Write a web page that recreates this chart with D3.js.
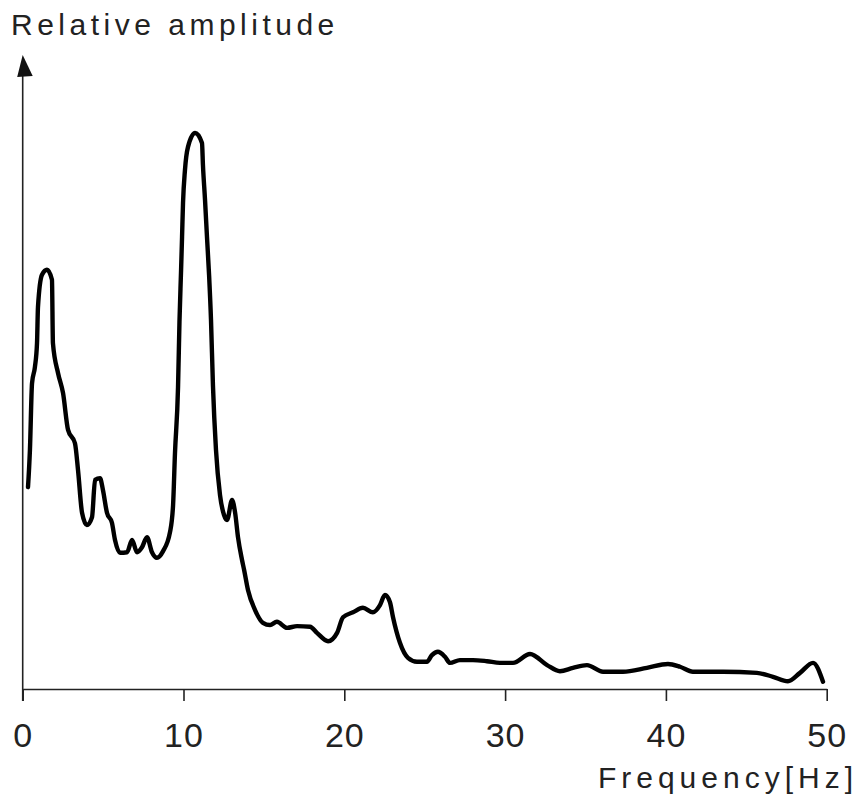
<!DOCTYPE html>
<html>
<head>
<meta charset="utf-8">
<script src="https://cdn.jsdelivr.net/npm/d3@7"></script>
<style>
  html, body { margin: 0; padding: 0; background: #fff; }
  svg { display: block; }
  text { font-family: "Liberation Sans", Arial, sans-serif; fill: #222; }
</style>
</head>
<body>
<svg id="chart" width="858" height="798"></svg>
<script>
// Frequency (Hz) of each traced point
const frequency = [
  0.33, 0.45, 0.58, 0.76, 0.89, 0.95, 1.20, 1.51, 1.82, 1.88,
  2.20, 2.51, 2.82, 3.25, 3.44, 3.69, 3.99, 4.31, 4.50, 4.81,
  4.99, 5.24, 5.55, 5.74, 6.05, 6.49, 6.80, 7.11, 7.42, 7.73,
  8.04, 8.35, 8.73, 9.16, 9.35, 9.47, 9.66, 9.75, 9.85, 9.91,
  9.97, 10.09, 10.28, 10.72, 11.15, 11.21, 11.34, 11.46, 11.59, 11.71,
  11.83, 12.02, 12.27, 12.52, 12.71, 13.02, 13.21, 13.39, 13.64, 13.77,
  14.01, 14.45, 14.94, 15.38, 15.81, 16.44, 17.06, 17.87, 18.30, 18.99,
  19.55, 19.92, 20.54, 21.16, 21.78, 22.22, 22.53, 22.84, 23.03, 23.46,
  23.96, 24.52, 25.14, 25.45, 25.82, 26.26, 26.57, 27.19, 28.00, 28.87,
  29.68, 30.49, 31.55, 32.61, 33.41, 34.22, 35.09, 36.09, 37.33, 38.82,
  40.13, 40.88, 41.68, 43.55, 45.66, 46.66, 47.59, 48.34, 49.15, 49.77
];
// Relative amplitude (1 = highest peak)
const amplitude = [
  0.363, 0.430, 0.550, 0.579, 0.622, 0.687, 0.745, 0.754, 0.736, 0.622,
  0.568, 0.532, 0.466, 0.442, 0.394, 0.317, 0.295, 0.309, 0.376, 0.379,
  0.358, 0.317, 0.299, 0.268, 0.245, 0.246, 0.268, 0.246, 0.255, 0.273,
  0.246, 0.236, 0.248, 0.282, 0.330, 0.424, 0.543, 0.661, 0.754, 0.813,
  0.874, 0.933, 0.975, 1.000, 0.982, 0.942, 0.879, 0.813, 0.745, 0.664,
  0.547, 0.430, 0.349, 0.313, 0.304, 0.340, 0.317, 0.273, 0.232, 0.214,
  0.178, 0.142, 0.119, 0.115, 0.121, 0.110, 0.113, 0.112, 0.101, 0.086,
  0.101, 0.129, 0.138, 0.146, 0.138, 0.151, 0.169, 0.156, 0.129, 0.083,
  0.056, 0.049, 0.049, 0.061, 0.067, 0.058, 0.047, 0.052, 0.052, 0.050,
  0.047, 0.047, 0.063, 0.043, 0.032, 0.038, 0.043, 0.031, 0.031, 0.038,
  0.045, 0.040, 0.031, 0.031, 0.029, 0.022, 0.014, 0.029, 0.047, 0.013
];
const xTicks = [0, 10, 20, 30, 40, 50];
const xTickLabels = ["0", "10", "20", "30", "40", "50"];
const yTitle = "Relative amplitude";
const xTitle = "Frequency[Hz]";

const svg = d3.select("#chart");
const x = d3.scaleLinear().domain([0, 50]).range([22.7, 826.7]);
const y = d3.scaleLinear().domain([0, 1]).range([689, 133]);

// x axis
const xAxis = d3.axisBottom(x)
  .tickValues(xTicks)
  .tickFormat((d, i) => xTickLabels[i])
  .tickSize(12)
  .tickSizeOuter(0)
  .tickPadding(22);
const gx = svg.append("g").attr("transform", `translate(0,${y(0)})`).call(xAxis);
gx.select(".domain").attr("stroke", "#222").attr("stroke-width", 1.6);
gx.selectAll(".tick line").attr("stroke", "#222").attr("stroke-width", 1.6);
gx.selectAll(".tick text")
  .attr("fill", "#2a2a2a")
  .style("font-size", "34px")
  .style("font-family", "'Liberation Sans', Arial, sans-serif")
  .style("letter-spacing", "1px");

// y axis (line + arrow, no ticks)
const yTop = 74;
svg.append("line")
  .attr("x1", x(0)).attr("x2", x(0))
  .attr("y1", y(0) + 12).attr("y2", yTop)
  .attr("stroke", "#222").attr("stroke-width", 1.6);
svg.append("path")
  .attr("d", `M${x(0)},55 L${x(0) - 5.5},77 L${x(0) + 10},76 Z`)
  .attr("fill", "#111");

// curve
const pts = frequency.map((f, i) => [f, amplitude[i]]);
const line = d3.line()
  .x(d => x(d[0]))
  .y(d => y(d[1]))
  .curve(d3.curveMonotoneX);
svg.append("path")
  .datum(pts)
  .attr("d", line)
  .attr("fill", "none")
  .attr("stroke", "#000")
  .attr("stroke-width", 4.4)
  .attr("stroke-linejoin", "round")
  .attr("stroke-linecap", "round");

// titles
svg.append("text")
  .attr("x", 11).attr("y", 35)
  .style("font-size", "30px")
  .style("letter-spacing", "4.5px")
  .text(yTitle);
svg.append("text")
  .attr("x", 858).attr("y", 788)
  .attr("text-anchor", "end")
  .style("font-size", "30px")
  .style("letter-spacing", "5px")
  .text(xTitle);
</script>
</body>
</html>
